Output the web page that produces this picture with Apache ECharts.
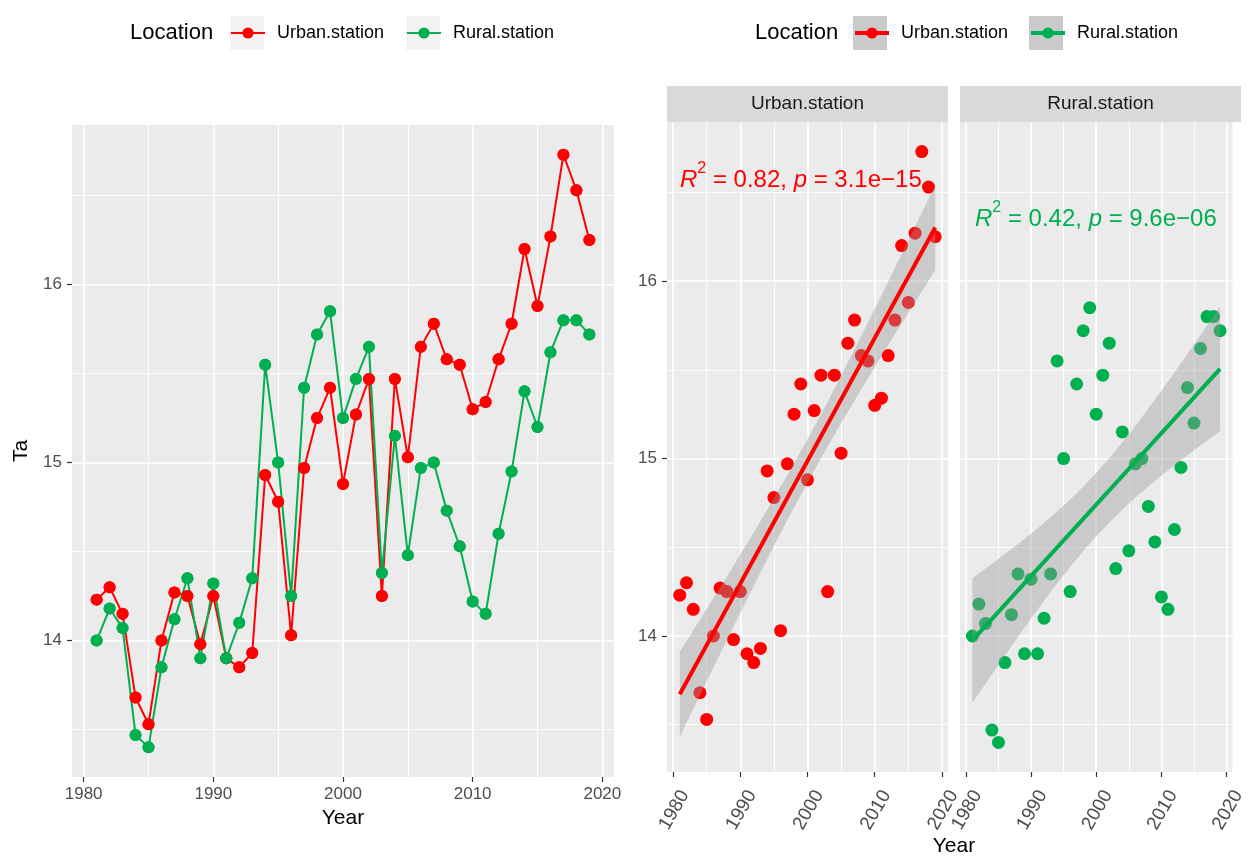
<!DOCTYPE html>
<html>
<head>
<meta charset="utf-8">
<script src="https://cdn.jsdelivr.net/npm/echarts@6/dist/echarts.min.js"></script>
<style>
html, body { margin: 0; padding: 0; background: #fff; }
#main { width: 1248px; height: 857px; }
</style>
</head>
<body>
<div id="main"></div>
<script>
// data
const years = [1981, 1982, 1983, 1984, 1985, 1986, 1987, 1988, 1989, 1990,
  1991, 1992, 1993, 1994, 1995, 1996, 1997, 1998, 1999, 2000,
  2001, 2002, 2003, 2004, 2005, 2006, 2007, 2008, 2009, 2010,
  2011, 2012, 2013, 2014, 2015, 2016, 2017, 2018, 2019];
const urbanTa = [14.23, 14.30, 14.15, 13.68, 13.53, 14.00, 14.27, 14.25, 13.98, 14.25,
  13.90, 13.85, 13.93, 14.93, 14.78, 14.03, 14.97, 15.25, 15.42, 14.88,
  15.27, 15.47, 14.25, 15.47, 15.03, 15.65, 15.78, 15.58, 15.55, 15.30,
  15.34, 15.58, 15.78, 16.20, 15.88, 16.27, 16.73, 16.53, 16.25];
const ruralTa = [14.00, 14.18, 14.07, 13.47, 13.40, 13.85, 14.12, 14.35, 13.90, 14.32,
  13.90, 14.10, 14.35, 15.55, 15.00, 14.25, 15.42, 15.72, 15.85, 15.25,
  15.47, 15.65, 14.38, 15.15, 14.48, 14.97, 15.00, 14.73, 14.53, 14.22,
  14.15, 14.60, 14.95, 15.40, 15.20, 15.62, 15.80, 15.80, 15.72];
const locations = ['Urban.station', 'Rural.station'];
const colors = ['#ff0000', '#00b050'];
const r2Labels = ['0.82', '0.42'];
const pLabels = ['3.1e\u221215', '9.6e\u221206'];
const xTicks = [1980, 1990, 2000, 2010, 2020];
const xMinorTicks = [1985, 1995, 2005, 2015];
const yTicks = [14, 15, 16];
const yMinorTicks = [13.5, 14.5, 15.5, 16.5];

const FONT = 'Liberation Sans, Arial, sans-serif';
const T975 = 2.026; // t quantile 0.975, df = 37

function pairs(xs, ys) { return xs.map((x, i) => [x, ys[i]]); }

function fit(xs, ys) {
  const n = xs.length;
  const mx = xs.reduce((s, v) => s + v, 0) / n;
  const my = ys.reduce((s, v) => s + v, 0) / n;
  let sxx = 0, sxy = 0;
  for (let i = 0; i < n; i++) { sxx += (xs[i] - mx) ** 2; sxy += (xs[i] - mx) * (ys[i] - my); }
  const b = sxy / sxx, a = my - b * mx;
  let sse = 0;
  for (let i = 0; i < n; i++) sse += (ys[i] - a - b * xs[i]) ** 2;
  return { a, b, n, mx, sxx, s: Math.sqrt(sse / (n - 2)) };
}

// ggplot-like expanded ranges
const allTa = urbanTa.concat(ruralTa);
const yLo = Math.min(...allTa), yHi = Math.max(...allTa);
const yMin = yLo - 0.05 * (yHi - yLo), yMax = yHi + 0.05 * (yHi - yLo);
const xMin = years[0] - 0.05 * (years[years.length - 1] - years[0]);
const xMax = years[years.length - 1] + 0.05 * (years[years.length - 1] - years[0]);

const labelStyle = { color: '#4d4d4d', fontSize: 17, fontFamily: FONT, formatter: v => String(v) };

function xAxes(grid, rotated) {
  return [{
    type: 'value', gridIndex: grid, min: xMin, max: xMax, position: 'bottom',
    axisLine: { show: false },
    axisTick: { show: true, length: 5, customValues: xTicks, lineStyle: { color: '#333', width: 1.2 } },
    axisLabel: rotated
      ? Object.assign({}, labelStyle, { customValues: xTicks, rotate: 60, margin: 13, align: 'right', verticalAlign: 'top', padding: [4, 0, 0, 0], fontSize: 19 })
      : Object.assign({ customValues: xTicks, margin: 9 }, labelStyle),
    splitLine: { show: true, customValues: xTicks, lineStyle: { color: '#fff', width: 1.7 } }
  }, {
    type: 'value', gridIndex: grid, min: xMin, max: xMax, position: 'top',
    axisLine: { show: false }, axisLabel: { show: false },
    axisTick: { show: true, length: 0, customValues: xMinorTicks, lineStyle: { opacity: 0 } },
    splitLine: { show: true, customValues: xMinorTicks, lineStyle: { color: '#fff', width: 0.9 } }
  }];
}

function yAxes(grid, withLabels) {
  return [{
    type: 'value', gridIndex: grid, min: yMin, max: yMax, position: 'left',
    axisLine: { show: false },
    axisTick: { show: withLabels, length: 5, customValues: yTicks, lineStyle: { color: '#333', width: 1.2 } },
    axisLabel: Object.assign({ show: withLabels, customValues: yTicks, margin: 10 }, labelStyle),
    splitLine: { show: true, customValues: yTicks, lineStyle: { color: '#fff', width: 1.7 } }
  }, {
    type: 'value', gridIndex: grid, min: yMin, max: yMax, position: 'right',
    axisLine: { show: false }, axisLabel: { show: false },
    axisTick: { show: true, length: 0, customValues: yMinorTicks, lineStyle: { opacity: 0 } },
    splitLine: { show: true, customValues: yMinorTicks, lineStyle: { color: '#fff', width: 0.9 } }
  }];
}

const xAxis = [].concat(xAxes(0, false), xAxes(1, true), xAxes(2, true));
const yAxis = [].concat(yAxes(0, true), yAxes(1, true), yAxes(2, false));
xAxis[0].name = 'Year';
xAxis[0].nameLocation = 'middle';
xAxis[0].nameGap = 28;
xAxis[0].nameTextStyle = { color: '#000', fontSize: 21, fontFamily: FONT };
yAxis[0].name = 'Ta';
yAxis[0].nameLocation = 'middle';
yAxis[0].nameGap = 40;
yAxis[0].nameRotate = 90;
yAxis[0].nameTextStyle = { color: '#000', fontSize: 21, fontFamily: FONT };

const series = [];
const taByLoc = [urbanTa, ruralTa];

// left panel: lines first, then points on top
locations.forEach((name, k) => {
  series.push({
    name, type: 'line', xAxisIndex: 0, yAxisIndex: 0, data: pairs(years, taByLoc[k]),
    symbol: 'circle', symbolSize: 12, showSymbol: true, z: 2,
    lineStyle: { color: colors[k], width: 2 }, itemStyle: { color: colors[k], opacity: 1 }
  });
});
locations.forEach((name, k) => {
  series.push({
    name, type: 'scatter', xAxisIndex: 0, yAxisIndex: 0, data: pairs(years, taByLoc[k]),
    symbolSize: 12, z: 3, itemStyle: { color: colors[k], opacity: 1 }
  });
});

// right panels: points, confidence band, fitted line
locations.forEach((name, k) => {
  const ax = 2 + 2 * k;
  const ys = taByLoc[k];
  const f = fit(years, ys);
  const lower = [], upper = [];
  const nPts = 80;
  for (let i = 0; i < nPts; i++) {
    const x = years[0] + (years[years.length - 1] - years[0]) * i / (nPts - 1);
    const yh = f.a + f.b * x;
    const se = f.s * Math.sqrt(1 / f.n + (x - f.mx) ** 2 / f.sxx);
    lower.push([x, yh - T975 * se]);
    upper.push([x, yh + T975 * se]);
  }
  series.push({
    name, type: 'scatter', xAxisIndex: ax, yAxisIndex: ax, data: pairs(years, ys),
    symbolSize: 13, z: 2, itemStyle: { color: colors[k], opacity: 1 }
  });
  series.push({
    type: 'custom', xAxisIndex: ax, yAxisIndex: ax, z: 3,
    data: [upper[0]],
    renderItem: (params, api) => {
      const pts = upper.map(p => api.coord(p)).concat(lower.slice().reverse().map(p => api.coord(p)));
      return { type: 'polygon', shape: { points: pts }, style: { fill: 'rgba(153,153,153,0.4)' } };
    }
  });
  const x0 = years[0], x1 = years[years.length - 1];
  series.push({
    type: 'line', xAxisIndex: ax, yAxisIndex: ax,
    data: [[x0, f.a + f.b * x0], [x1, f.a + f.b * x1]],
    symbol: 'none', z: 4, lineStyle: { color: colors[k], width: 4 }
  });
});

function legendItem(name, left, thick) {
  return {
    data: [thick ? { name, lineStyle: { width: 4 } } : name],
    left, top: 23, padding: 0, itemWidth: 34, itemHeight: 14, z: 10,
    selectedMode: false,
    textStyle: { color: '#000', fontSize: 18, fontFamily: FONT, lineHeight: 20, padding: [0, 0, 0, 7] }
  };
}

const graphic = [];
[[130, 'Location'], [755, 'Location']].forEach(([x, t]) => {
  graphic.push({ type: 'text', x, y: 33, style: { text: t, fill: '#000', fontSize: 22, fontFamily: FONT, verticalAlign: 'middle' } });
});
[[230, '#f2f2f2'], [406, '#f2f2f2'], [853, '#cacaca'], [1029, '#cacaca']].forEach(([x, c]) => {
  graphic.push({ type: 'rect', x, y: 16, shape: { width: 34, height: 34 }, style: { fill: c }, z: -1 });
});
// facet strips
[[667, locations[0]], [960, locations[1]]].forEach(([x, t]) => {
  graphic.push({ type: 'rect', x, y: 86, shape: { width: 281, height: 36 }, style: { fill: '#d9d9d9' } });
  graphic.push({ type: 'text', x: x + 140.5, y: 104, style: { text: t, fill: '#1a1a1a', fontSize: 19, fontFamily: FONT, align: 'center', verticalAlign: 'middle' } });
});
// stat labels
[[680, 180], [975, 219]].forEach(([x, y], k) => {
  graphic.push({
    type: 'text', x, y, z: 20,
    style: {
      text: '{i|R}{s|2}{n| = ' + r2Labels[k] + ', }{i|p}{n| = ' + pLabels[k] + '}',
      fill: colors[k], fontFamily: FONT, verticalAlign: 'middle',
      rich: {
        i: { fontSize: 24, fontStyle: 'italic', fontFamily: FONT, lineHeight: 38, fill: colors[k] },
        n: { fontSize: 24, fontFamily: FONT, lineHeight: 38, fill: colors[k] },
        s: { fontSize: 16, fontFamily: FONT, lineHeight: 16, verticalAlign: 'top', fill: colors[k] }
      }
    }
  });
});
graphic.push({ type: 'text', x: 954, y: 846, style: { text: 'Year', fill: '#000', fontSize: 21, fontFamily: FONT, align: 'center', verticalAlign: 'middle' } });

const chart = echarts.init(document.getElementById('main'), null, { renderer: 'canvas' });
chart.setOption({
  animation: false,
  backgroundColor: '#fff',
  grid: [
    { left: 72, top: 125, width: 542, height: 652, show: true, backgroundColor: '#ebebeb', borderWidth: 0 },
    { left: 667, top: 122, width: 281, height: 650, show: true, backgroundColor: '#ebebeb', borderWidth: 0 },
    { left: 960, top: 122, width: 281, height: 650, show: true, backgroundColor: '#ebebeb', borderWidth: 0 }
  ],
  legend: [
    legendItem(locations[0], 230, false),
    legendItem(locations[1], 406, false),
    legendItem(locations[0], 853, true),
    legendItem(locations[1], 1029, true)
  ],
  xAxis, yAxis, series, graphic
});
</script>
</body>
</html>
